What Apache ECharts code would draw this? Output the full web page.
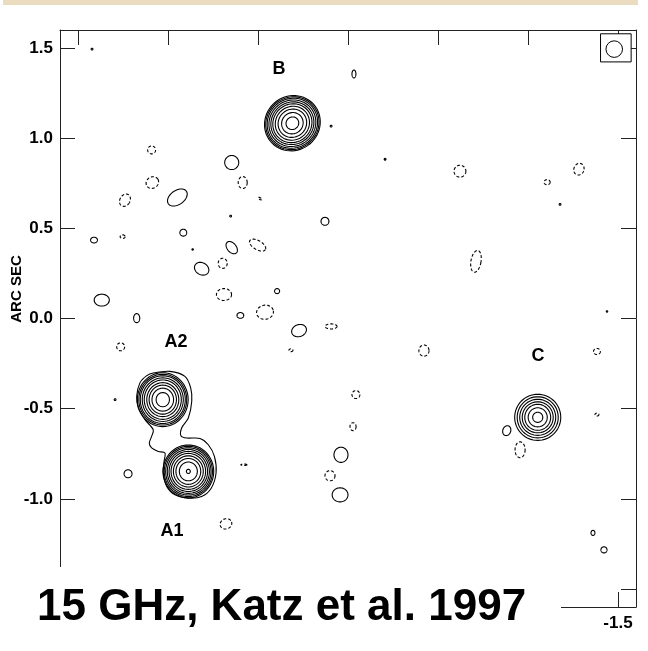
<!DOCTYPE html>
<html><head><meta charset="utf-8">
<script src="https://cdn.jsdelivr.net/npm/echarts@6/dist/echarts.min.js"></script>
<style>html,body{margin:0;padding:0;background:#fff}#c{width:648px;height:651px}</style>
</head><body><div id="c"></div>
<script>
// axis ticks (arcsec)
const tickValues = [-1.5, -1.0, -0.5, 0.0, 0.5, 1.0, 1.5];
// source labels: [x, y, name]
const sourceLabels = [[0.383, 1.383, 'B'], [0.956, -0.133, 'A2'], [0.978, -1.178, 'A1'], [-1.056, -0.206, 'C']];
// nested contour rings of the sources: centre, radii (arcsec), axis ratio, tilt (deg)
const centreA2 = [1.029, -0.45];
const ringsA2 = [0.037, 0.060, 0.076, 0.089, 0.103, 0.114, 0.125, 0.133, 0.141];
const centreA1 = [0.887, -0.848];
const ringsA1 = [0.011, 0.050, 0.069, 0.083, 0.096, 0.107, 0.117, 0.126, 0.134, 0.141];
const centreB = [0.309, 1.083];
const ringsB = [0.036, 0.061, 0.081, 0.097, 0.111, 0.122, 0.133, 0.143, 0.151, 0.158];
const centreC = [-1.054, -0.548];
const ringsC = [0.028, 0.053, 0.072, 0.086, 0.100, 0.114, 0.128];
const ringShape = {A2: [1.06, 0], A1: [1.04, 0], B: [0.95, 40], C: [1.0, 0]};
// lowest contour enclosing both A1 and A2 (arcsec)
const bridgeContour = [
 [1.082,-0.302],[0.989,-0.293],[0.906,-0.321],[0.874,-0.385],[0.868,-0.459],[0.887,-0.552],
 [0.924,-0.607],[0.928,-0.650],[0.896,-0.663],[0.822,-0.665],[0.776,-0.700],[0.742,-0.765],
 [0.733,-0.857],[0.760,-0.941],[0.813,-0.987],[0.887,-0.996],[0.961,-0.978],[1.007,-0.932],
 [1.026,-0.857],[1.022,-0.793],[1.017,-0.746],[1.054,-0.737],[1.091,-0.718],[1.104,-0.691],
 [1.091,-0.654],[1.082,-0.617],[1.128,-0.561],[1.165,-0.496],[1.174,-0.432],[1.156,-0.357],[1.118,-0.317]
];
// isolated noise contours: [x, y, semi-axis a, semi-axis b (arcsec), tilt deg, dashed(1)/solid(0)]
const noiseContours = [
 [1.091,0.935,0.022,0.022,0,1],[0.646,0.865,0.039,0.039,0,0],[0.585,0.754,0.025,0.033,0,1],
 [1.087,0.754,0.036,0.031,30,1],[1.239,0.656,0.028,0.036,-30,1],[0.948,0.671,0.061,0.039,35,0],
 [0.489,0.665,0.011,0.005,-30,1],[0.652,0.568,0.005,0.005,0,0],[0.915,0.476,0.019,0.019,0,0],
 [1.411,0.435,0.019,0.016,0,0],[1.252,0.454,0.014,0.010,0,1],[0.646,0.393,0.039,0.025,-50,0],
 [0.502,0.407,0.050,0.025,-30,1],[0.863,0.383,0.004,0.004,0,0],[0.696,0.306,0.025,0.028,0,1],
 [0.813,0.276,0.042,0.033,-30,0],[0.689,0.133,0.042,0.033,0,1],[0.394,0.152,0.014,0.014,0,0],
 [1.368,0.102,0.042,0.033,0,0],[1.174,0.002,0.017,0.025,0,0],[0.598,0.017,0.019,0.016,0,0],
 [0.461,0.035,0.047,0.039,10,1],[0.272,-0.067,0.042,0.033,20,0],[1.263,-0.157,0.022,0.022,0,1],
 [0.317,-0.176,0.011,0.008,0,1],[1.422,1.494,0.005,0.005,0,0],[-0.033,1.356,0.011,0.022,0,0],
 [0.094,1.067,0.005,0.005,0,0],[-0.206,0.883,0.005,0.005,0,0],[-0.622,0.817,0.033,0.033,0,1],
 [-1.106,0.756,0.017,0.014,0,1],[-1.283,0.828,0.028,0.033,-20,1],[-1.178,0.633,0.005,0.005,0,0],
 [0.128,0.539,0.022,0.022,0,0],[-0.711,0.317,0.028,0.061,-10,1],[0.094,-0.044,0.033,0.014,0,1],
 [-0.422,-0.178,0.028,0.031,0,1],[-1.383,-0.183,0.019,0.017,0,1],[-1.439,0.039,0.004,0.004,0,0],
 [1.294,-0.45,0.005,0.005,0,0],[-0.044,-0.422,0.022,0.022,0,1],[-0.028,-0.600,0.017,0.022,0,1],
 [0.039,-0.756,0.039,0.042,0,0],[0.100,-0.872,0.028,0.028,0,1],[0.044,-0.978,0.044,0.039,0,0],
 [1.222,-0.861,0.022,0.022,0,0],[0.578,-0.811,0.017,0.004,0,1],[-1.383,-0.533,0.011,0.008,0,1],
 [0.678,-1.139,0.033,0.028,20,1],[-1.361,-1.189,0.011,0.014,0,0],[-1.422,-1.283,0.017,0.017,0,0],
 [-0.882,-0.622,0.022,0.028,-20,0],[-0.956,-0.728,0.028,0.044,0,1]
];
// restoring beam: centre, radius; beam box half sizes
const beam = [-1.479, 1.494, 0.046];
const beamBox = [-1.488, 1.501, 0.085, 0.078];

function ringItems(centre, radii, shape) {
  return radii.map(r => [centre[0], centre[1], r, r * shape[0], shape[1], 0]);
}
const sourceRingData = [].concat(
  ringItems(centreA2, ringsA2, ringShape.A2),
  ringItems(centreA1, ringsA1, ringShape.A1),
  ringItems(centreB, ringsB, ringShape.B),
  ringItems(centreC, ringsC, ringShape.C)
);

function renderEllipse(params, api) {
  const c = api.coord([api.value(0), api.value(1)]);
  const s = api.size([api.value(2), api.value(3)]);
  const rx = Math.abs(s[0]), ry = Math.abs(s[1]);
  const a = api.value(4) * Math.PI / 180;
  const pts = [];
  const n = 64;
  for (let i = 0; i < n; i++) {
    const t = i / n * 2 * Math.PI;
    const ex = rx * Math.cos(t), ey = ry * Math.sin(t);
    pts.push([c[0] + ex * Math.cos(a) + ey * Math.sin(a), c[1] - ex * Math.sin(a) + ey * Math.cos(a)]);
  }
  const dashed = api.value(5) === 1;
  return {type: 'polygon', shape: {points: pts},
    style: {fill: null, stroke: '#000', lineWidth: 1.1, lineDash: dashed ? [3, 2] : null}};
}

const chart = echarts.init(document.getElementById('c'), null, {renderer: 'canvas'});
const axisCommon = {
  type: 'value', min: -1.6, max: 1.6,
  axisLine: {show: true, onZero: false, lineStyle: {color: '#222', width: 1}},
  axisTick: {show: true, inside: true, length: 15, customValues: tickValues, lineStyle: {color: '#222', width: 1}},
  splitLine: {show: false}
};
const labelStyle = {fontFamily: '"Liberation Sans Narrow", "Liberation Sans", Arial, sans-serif', fontWeight: 'bold', fontSize: 17, color: '#000',
  formatter: v => Number(v).toFixed(1), customValues: tickValues};

chart.setOption({
  animation: false,
  backgroundColor: '#fff',
  grid: {left: 60, top: 30, width: 576, height: 577},
  xAxis: [
    Object.assign({}, axisCommon, {position: 'bottom', inverse: true, axisLabel: Object.assign({show: true, margin: 8}, labelStyle)}),
    Object.assign({}, axisCommon, {position: 'top', inverse: true, axisLabel: {show: false}})
  ],
  yAxis: [
    Object.assign({}, axisCommon, {position: 'left', axisLabel: Object.assign({show: true, margin: 7}, labelStyle)}),
    Object.assign({}, axisCommon, {position: 'right', axisLabel: {show: false}})
  ],
  series: [
    {type: 'custom', coordinateSystem: 'cartesian2d', renderItem: renderEllipse, data: sourceRingData, silent: true, clip: true},
    {type: 'custom', coordinateSystem: 'cartesian2d', renderItem: renderEllipse, data: noiseContours, silent: true, clip: true},
    {type: 'custom', coordinateSystem: 'cartesian2d', silent: true, data: [0],
      renderItem: function (params, api) {
        const pts = bridgeContour.map(p => api.coord(p));
        return {type: 'polygon', shape: {points: pts, smooth: 0.3},
          style: {fill: null, stroke: '#000', lineWidth: 1.1}};
      }},
    {type: 'custom', coordinateSystem: 'cartesian2d', silent: true, data: [0],
      renderItem: function (params, api) {
        const c = api.coord([beam[0], beam[1]]);
        const r = Math.abs(api.size([beam[2], beam[2]])[0]);
        const bc = api.coord([beamBox[0], beamBox[1]]);
        const bs = api.size([beamBox[2], beamBox[3]]).map(Math.abs);
        return {type: 'group', children: [
          {type: 'rect', shape: {x: bc[0] - bs[0], y: bc[1] - bs[1], width: 2 * bs[0], height: 2 * bs[1]},
            style: {fill: '#fff', stroke: '#000', lineWidth: 1}},
          {type: 'circle', shape: {cx: c[0], cy: c[1], r: r}, style: {fill: null, stroke: '#000', lineWidth: 1}}
        ]};
      }},
    {type: 'custom', coordinateSystem: 'cartesian2d', silent: true, z: 5,
      data: sourceLabels.map(d => [d[0], d[1]]),
      renderItem: function (params, api) {
        const c = api.coord([api.value(0), api.value(1)]);
        return {type: 'text', x: c[0], y: c[1],
          style: {text: sourceLabels[params.dataIndex][2], fill: '#000', align: 'center', verticalAlign: 'middle',
            font: 'bold 18px "Liberation Sans", Arial, sans-serif'}};
      }}
  ],
  graphic: [
    {type: 'rect', z: 200, shape: {x: 3, y: 0, width: 635, height: 5}, style: {fill: '#ebdcbf'}},
    {type: 'text', z: 200, x: 17, y: 289, rotation: Math.PI / 2,
      style: {text: 'ARC SEC', font: 'bold 15px "Liberation Sans Narrow", "Liberation Sans", Arial, sans-serif', fill: '#000', align: 'center', verticalAlign: 'middle'}},
    {type: 'rect', z: 200, shape: {x: 0, y: 567, width: 561, height: 84}, style: {fill: '#fff'}},
    {type: 'text', z: 201, x: 37, y: 608,
      style: {text: '15 GHz, Katz et al. 1997', font: 'bold 44px "Liberation Sans", Arial, sans-serif', fill: '#000', align: 'left', verticalAlign: 'middle'}}
  ]
});
</script></body></html>
